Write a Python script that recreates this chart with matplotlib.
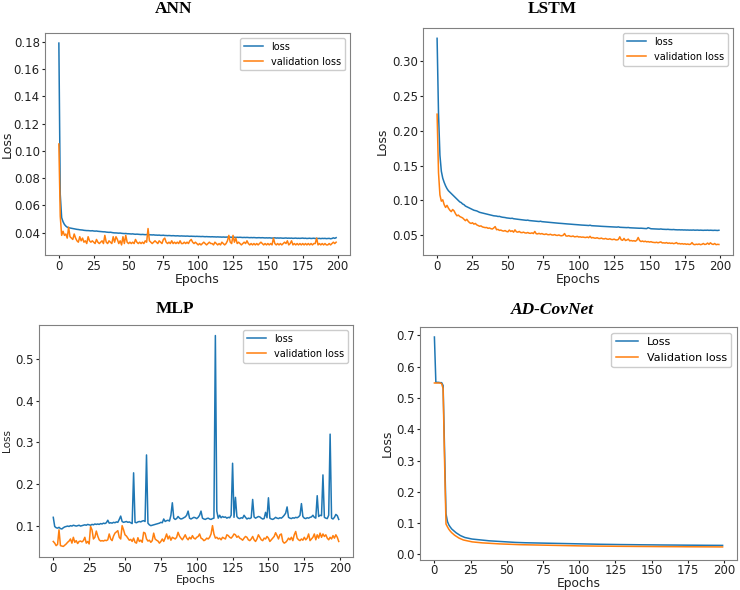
import numpy as np
import matplotlib
matplotlib.use("Agg")
from matplotlib import pyplot as plt

epochs = np.arange(200)

ann_loss = [
    0.179, 0.068, 0.051, 0.048, 0.046, 0.0448, 0.0440, 0.0436, 0.0434, 0.0432,
    0.0430, 0.0428, 0.0426, 0.0424, 0.0423, 0.0421, 0.0420, 0.0419, 0.0417, 0.0416,
    0.0415, 0.0415, 0.0414, 0.0413, 0.0414, 0.0412, 0.0411, 0.0412, 0.0410, 0.0409,
    0.0408, 0.0407, 0.0406, 0.0406, 0.0404, 0.0403, 0.0402, 0.0403, 0.0401, 0.0399,
    0.0398, 0.0398, 0.0397, 0.0396, 0.0397, 0.0395, 0.0394, 0.0393, 0.0394, 0.0392,
    0.0392, 0.0391, 0.0390, 0.0391, 0.0389, 0.0388, 0.0389, 0.0388, 0.0387, 0.0386,
    0.0387, 0.0386, 0.0385, 0.0386, 0.0385, 0.0384, 0.0384, 0.0383, 0.0384, 0.0382,
    0.0382, 0.0381, 0.0382, 0.0380, 0.0380, 0.0381, 0.0379, 0.0379, 0.0378, 0.0379,
    0.0378, 0.0377, 0.0378, 0.0377, 0.0376, 0.0377, 0.0376, 0.0375, 0.0376, 0.0375,
    0.0375, 0.0374, 0.0375, 0.0374, 0.0373, 0.0374, 0.0373, 0.0373, 0.0372, 0.0373,
    0.0372, 0.0372, 0.0371, 0.0372, 0.0371, 0.0370, 0.0371, 0.0370, 0.0370, 0.0369,
    0.0370, 0.0369, 0.0369, 0.0368, 0.0369, 0.0368, 0.0368, 0.0367, 0.0368, 0.0367,
    0.0367, 0.0368, 0.0366, 0.0367, 0.0366, 0.0367, 0.0366, 0.0365, 0.0366, 0.0365,
    0.0366, 0.0365, 0.0364, 0.0365, 0.0364, 0.0365, 0.0364, 0.0363, 0.0364, 0.0363,
    0.0364, 0.0363, 0.0362, 0.0363, 0.0363, 0.0362, 0.0363, 0.0362, 0.0361, 0.0362,
    0.0361, 0.0362, 0.0361, 0.0360, 0.0361, 0.0362, 0.0360, 0.0361, 0.0360, 0.0361,
    0.0360, 0.0359, 0.0360, 0.0361, 0.0359, 0.0360, 0.0359, 0.0360, 0.0358, 0.0359,
    0.0360, 0.0358, 0.0359, 0.0358, 0.0359, 0.0360, 0.0358, 0.0359, 0.0357, 0.0358,
    0.0359, 0.0357, 0.0358, 0.0359, 0.0357, 0.0358, 0.0357, 0.0358, 0.0356, 0.0358,
    0.0357, 0.0358, 0.0356, 0.0357, 0.0358, 0.0355, 0.0357, 0.0362, 0.0358, 0.0363,
]
ann_val = [
    0.105, 0.052, 0.038, 0.041, 0.038, 0.039, 0.036, 0.044, 0.037, 0.036,
    0.035, 0.039, 0.036, 0.034, 0.033, 0.037, 0.034, 0.036, 0.033, 0.034,
    0.032, 0.037, 0.034, 0.033, 0.034, 0.033, 0.032, 0.035, 0.033, 0.032,
    0.033, 0.034, 0.032, 0.038, 0.033, 0.032, 0.034, 0.033, 0.032, 0.037,
    0.033, 0.037, 0.035, 0.032, 0.034, 0.031, 0.037, 0.032, 0.038, 0.033,
    0.032, 0.033, 0.032, 0.033, 0.032, 0.035, 0.033, 0.032, 0.033, 0.032,
    0.033, 0.032, 0.034, 0.033, 0.043, 0.034, 0.033, 0.032, 0.033, 0.034,
    0.033, 0.032, 0.034, 0.033, 0.032, 0.035, 0.036, 0.033, 0.032, 0.033,
    0.032, 0.034, 0.032, 0.033, 0.032, 0.033, 0.032, 0.034, 0.032, 0.032,
    0.033, 0.032, 0.033, 0.032, 0.034, 0.035, 0.033, 0.032, 0.033, 0.032,
    0.031, 0.032, 0.031, 0.032, 0.033, 0.032, 0.031, 0.032, 0.033, 0.032,
    0.032, 0.031, 0.033, 0.032, 0.031, 0.032, 0.031, 0.033, 0.032, 0.031,
    0.032, 0.034, 0.038, 0.033, 0.032, 0.038, 0.033, 0.036, 0.032, 0.033,
    0.032, 0.031, 0.032, 0.033, 0.032, 0.034, 0.032, 0.031, 0.032, 0.031,
    0.032, 0.031, 0.032, 0.031, 0.032, 0.033, 0.032, 0.031, 0.032, 0.031,
    0.032, 0.031, 0.032, 0.031, 0.036, 0.032, 0.031, 0.032, 0.031, 0.032,
    0.031, 0.032, 0.033, 0.032, 0.034, 0.031, 0.032, 0.034, 0.031, 0.032,
    0.031, 0.032, 0.031, 0.032, 0.031, 0.032, 0.031, 0.032, 0.031, 0.032,
    0.031, 0.032, 0.031, 0.032, 0.032, 0.036, 0.031, 0.032, 0.031, 0.032,
    0.031, 0.032, 0.031, 0.031, 0.032, 0.031, 0.032, 0.033, 0.032, 0.033,
]

lstm_loss = [
    0.333, 0.225, 0.165, 0.142, 0.132, 0.126, 0.121, 0.117, 0.114, 0.112,
    0.110, 0.108, 0.106, 0.104, 0.102, 0.100, 0.098, 0.097, 0.095, 0.094,
    0.092, 0.091, 0.090, 0.089, 0.088, 0.087, 0.086, 0.0855, 0.085, 0.084,
    0.083, 0.0825, 0.082, 0.0815, 0.081, 0.0805, 0.080, 0.0795, 0.079, 0.0785,
    0.078, 0.0778, 0.0776, 0.077, 0.0772, 0.0765, 0.076, 0.0758, 0.0755, 0.075,
    0.0748, 0.0745, 0.0742, 0.0745, 0.0738, 0.0735, 0.0732, 0.073, 0.0728, 0.0725,
    0.0722, 0.072, 0.0718, 0.0715, 0.0718, 0.0712, 0.071, 0.0708, 0.0705, 0.0703,
    0.0702, 0.070, 0.0698, 0.0702, 0.0696, 0.0694, 0.0692, 0.069, 0.0688, 0.0686,
    0.0685, 0.0683, 0.068, 0.0678, 0.0677, 0.0675, 0.0673, 0.0672, 0.067, 0.0668,
    0.0667, 0.0665, 0.0663, 0.0662, 0.066, 0.0658, 0.0657, 0.0655, 0.0654, 0.0652,
    0.065, 0.0649, 0.0647, 0.0646, 0.0645, 0.0643, 0.0642, 0.064, 0.0645, 0.0638,
    0.0637, 0.0636, 0.0634, 0.0633, 0.0632, 0.063, 0.0629, 0.0628, 0.0627, 0.0626,
    0.0625, 0.0624, 0.0622, 0.0621, 0.062, 0.0619, 0.0618, 0.0617, 0.0621, 0.0615,
    0.0614, 0.0613, 0.0612, 0.0611, 0.061, 0.0612, 0.0608, 0.0607, 0.0606, 0.0605,
    0.0604, 0.0603, 0.0602, 0.0601, 0.0602, 0.060, 0.0598, 0.0597, 0.0596, 0.0609,
    0.0602, 0.0594, 0.0593, 0.0592, 0.0591, 0.059, 0.0589, 0.0588, 0.0591, 0.0587,
    0.0586, 0.0585, 0.0584, 0.0586, 0.0583, 0.0582, 0.0581, 0.0583, 0.058, 0.0579,
    0.0578, 0.0579, 0.0577, 0.0578, 0.0576, 0.0577, 0.0575, 0.0576, 0.0574, 0.0575,
    0.0574, 0.0576, 0.0573, 0.0574, 0.0575, 0.0572, 0.0574, 0.0573, 0.0571, 0.0573,
    0.0572, 0.0574, 0.0571, 0.0573, 0.0572, 0.0570, 0.0572, 0.0571, 0.0569, 0.0572,
]
lstm_val = [
    0.224, 0.140, 0.108, 0.099, 0.101, 0.094, 0.090, 0.093, 0.089, 0.086,
    0.084, 0.087, 0.085, 0.081, 0.078, 0.079, 0.077, 0.076, 0.075, 0.073,
    0.071, 0.073, 0.070, 0.068, 0.067, 0.068, 0.066, 0.067, 0.065, 0.064,
    0.063, 0.0635, 0.062, 0.0615, 0.061, 0.0612, 0.060, 0.0605, 0.0595, 0.059,
    0.0605, 0.0625, 0.058, 0.0585, 0.057, 0.0575, 0.0565, 0.056, 0.0568, 0.0555,
    0.055, 0.0575, 0.0555, 0.0565, 0.0545, 0.0578, 0.055, 0.0545, 0.0555, 0.054,
    0.0538, 0.0545, 0.0535, 0.0532, 0.054, 0.053, 0.0528, 0.0535, 0.0525, 0.0555,
    0.0522, 0.052, 0.0528, 0.0518, 0.0525, 0.0515, 0.0512, 0.052, 0.051, 0.0508,
    0.0515, 0.0505, 0.0503, 0.051, 0.050, 0.0498, 0.0505, 0.0495, 0.0493, 0.050,
    0.0525, 0.049, 0.0488, 0.0495, 0.0485, 0.0483, 0.049, 0.0478, 0.048, 0.0485,
    0.0475, 0.0478, 0.0472, 0.0475, 0.047, 0.0468, 0.0475, 0.0465, 0.0485, 0.0462,
    0.0468, 0.046, 0.0458, 0.0465, 0.0455, 0.0453, 0.046, 0.045, 0.0448, 0.0455,
    0.0445, 0.0443, 0.045, 0.044, 0.0438, 0.0445, 0.0435, 0.0433, 0.044, 0.0478,
    0.0435, 0.0428, 0.0455, 0.0425, 0.0432, 0.0445, 0.042, 0.0425, 0.0418, 0.0422,
    0.0415, 0.0428, 0.0468, 0.0425, 0.041, 0.0418, 0.0408, 0.0415, 0.0405, 0.041,
    0.0402, 0.0408, 0.040, 0.0398, 0.0395, 0.040, 0.0392, 0.0398, 0.0405, 0.039,
    0.0392, 0.0388, 0.0395, 0.0385, 0.039, 0.0383, 0.0388, 0.038, 0.0385, 0.0395,
    0.0378, 0.0382, 0.0375, 0.038, 0.0373, 0.0378, 0.037, 0.0375, 0.0368, 0.0372,
    0.0395, 0.037, 0.0365, 0.0372, 0.0368, 0.0375, 0.0365, 0.037, 0.0382, 0.0368,
    0.0372, 0.0388, 0.037, 0.0392, 0.0375, 0.0368, 0.0382, 0.0365, 0.037, 0.0368,
]

mlp_loss = [
    0.120, 0.098, 0.095, 0.094, 0.096, 0.093, 0.092, 0.095, 0.097, 0.098,
    0.099, 0.098, 0.100, 0.099, 0.101, 0.100, 0.099, 0.100, 0.101, 0.099,
    0.100, 0.101, 0.102, 0.101, 0.103, 0.102, 0.101, 0.103, 0.102, 0.104,
    0.103, 0.104, 0.103, 0.105, 0.104, 0.106, 0.105, 0.107, 0.113, 0.106,
    0.107, 0.106, 0.108, 0.107, 0.109, 0.108, 0.115, 0.123, 0.110, 0.108,
    0.109, 0.110, 0.108, 0.109, 0.107, 0.105, 0.227, 0.108, 0.107, 0.109,
    0.110, 0.109, 0.111, 0.112, 0.110, 0.270, 0.106, 0.102, 0.100, 0.101,
    0.102, 0.103, 0.104, 0.105, 0.106, 0.108, 0.107, 0.116, 0.110, 0.112,
    0.113, 0.111, 0.125, 0.155, 0.118, 0.115, 0.117, 0.122, 0.118, 0.116,
    0.117, 0.119, 0.121, 0.125, 0.135, 0.118, 0.116, 0.118, 0.120, 0.119,
    0.117, 0.120, 0.125, 0.135, 0.118, 0.116, 0.115, 0.117, 0.118, 0.116,
    0.115, 0.117, 0.118, 0.557, 0.135, 0.118, 0.125, 0.119, 0.122, 0.120,
    0.121, 0.118, 0.120, 0.119, 0.125, 0.250, 0.120, 0.168, 0.122, 0.118,
    0.117, 0.119, 0.118, 0.125, 0.120, 0.116, 0.118, 0.117, 0.119, 0.163,
    0.121, 0.118, 0.120, 0.122, 0.121, 0.118, 0.116, 0.117, 0.132, 0.119,
    0.167, 0.118, 0.116, 0.115, 0.117, 0.120, 0.118, 0.117, 0.119, 0.118,
    0.121, 0.125, 0.130, 0.145, 0.120, 0.118, 0.117, 0.119, 0.118, 0.120,
    0.119, 0.121, 0.125, 0.153, 0.122, 0.118, 0.117, 0.119, 0.118, 0.120,
    0.121, 0.125, 0.120, 0.118, 0.172, 0.122, 0.125, 0.124, 0.222, 0.120,
    0.118, 0.117, 0.125, 0.320, 0.118, 0.116, 0.120, 0.127, 0.124, 0.115,
]
mlp_val = [
    0.062, 0.058, 0.052, 0.055, 0.090, 0.052, 0.051, 0.050, 0.053, 0.056,
    0.060, 0.063, 0.068, 0.058, 0.072, 0.060, 0.064, 0.057, 0.062, 0.063,
    0.061, 0.064, 0.072, 0.058, 0.062, 0.056, 0.098, 0.090, 0.068, 0.072,
    0.087, 0.075, 0.066, 0.063, 0.064, 0.063, 0.065, 0.064, 0.066, 0.080,
    0.068, 0.064, 0.075, 0.082, 0.085, 0.088, 0.072, 0.068, 0.100, 0.090,
    0.078, 0.075, 0.070, 0.065, 0.067, 0.062, 0.070, 0.060, 0.058, 0.071,
    0.062, 0.065, 0.060, 0.084, 0.082, 0.068, 0.063, 0.065, 0.060, 0.064,
    0.082, 0.068, 0.065, 0.063, 0.058, 0.062, 0.068, 0.062, 0.070, 0.080,
    0.068, 0.075, 0.065, 0.072, 0.070, 0.068, 0.072, 0.084, 0.075, 0.070,
    0.066, 0.072, 0.078, 0.070, 0.066, 0.072, 0.068, 0.076, 0.070, 0.068,
    0.072, 0.074, 0.080, 0.070, 0.068, 0.064, 0.066, 0.070, 0.068, 0.072,
    0.080, 0.100, 0.080, 0.070, 0.072, 0.068, 0.070, 0.066, 0.072, 0.070,
    0.068, 0.078, 0.076, 0.072, 0.070, 0.074, 0.080, 0.078, 0.072, 0.075,
    0.070, 0.068, 0.065, 0.070, 0.074, 0.072, 0.066, 0.064, 0.068, 0.074,
    0.066, 0.062, 0.068, 0.078, 0.072, 0.066, 0.064, 0.070, 0.068, 0.074,
    0.070, 0.062, 0.066, 0.070, 0.074, 0.083, 0.076, 0.068, 0.078, 0.080,
    0.062, 0.058, 0.060, 0.064, 0.070, 0.066, 0.072, 0.064, 0.078, 0.086,
    0.070, 0.066, 0.064, 0.068, 0.065, 0.072, 0.066, 0.070, 0.080, 0.064,
    0.068, 0.072, 0.080, 0.066, 0.078, 0.070, 0.082, 0.072, 0.080, 0.074,
    0.078, 0.070, 0.066, 0.072, 0.068, 0.076, 0.070, 0.078, 0.072, 0.062,
]

adc_loss = [
    0.695, 0.550, 0.550, 0.550, 0.549, 0.549, 0.540, 0.330, 0.130, 0.105,
    0.094, 0.087, 0.081, 0.077, 0.073, 0.069, 0.066, 0.063, 0.060, 0.058,
    0.056, 0.054, 0.053, 0.052, 0.051, 0.050, 0.049, 0.0485, 0.048, 0.0475,
    0.047, 0.0465, 0.046, 0.0455, 0.045, 0.0445, 0.044, 0.0437, 0.0433, 0.043,
    0.0427, 0.0423, 0.042, 0.0417, 0.0413, 0.041, 0.0407, 0.0403, 0.040, 0.0397,
    0.0395, 0.0392, 0.039, 0.0388, 0.0386, 0.0384, 0.0382, 0.038, 0.0378, 0.0377,
    0.0375, 0.0374, 0.0372, 0.0371, 0.037, 0.0368, 0.0367, 0.0366, 0.0365, 0.0364,
    0.0363, 0.0362, 0.0361, 0.036, 0.0359, 0.0358, 0.0357, 0.0356, 0.0355, 0.0354,
    0.0353, 0.0352, 0.0351, 0.035, 0.0349, 0.0348, 0.0347, 0.0346, 0.0345, 0.0344,
    0.0343, 0.0342, 0.0341, 0.034, 0.0339, 0.0338, 0.0337, 0.0336, 0.0335, 0.0334,
    0.0333, 0.0332, 0.0331, 0.0331, 0.033, 0.0329, 0.0328, 0.0328, 0.0327, 0.0326,
    0.0326, 0.0325, 0.0324, 0.0324, 0.0323, 0.0322, 0.0322, 0.0321, 0.032, 0.032,
    0.0319, 0.0318, 0.0318, 0.0317, 0.0316, 0.0316, 0.0315, 0.0315, 0.0314, 0.0313,
    0.0313, 0.0312, 0.0312, 0.0311, 0.0311, 0.031, 0.031, 0.0309, 0.0309, 0.0308,
    0.0308, 0.0307, 0.0307, 0.0306, 0.0306, 0.0305, 0.0305, 0.0304, 0.0304, 0.0303,
    0.0303, 0.0303, 0.0302, 0.0302, 0.0301, 0.0301, 0.0301, 0.030, 0.030, 0.0299,
    0.0299, 0.0299, 0.0298, 0.0298, 0.0298, 0.0297, 0.0297, 0.0297, 0.0296, 0.0296,
    0.0296, 0.0295, 0.0295, 0.0295, 0.0294, 0.0294, 0.0294, 0.0293, 0.0293, 0.0293,
    0.0292, 0.0292, 0.0292, 0.0291, 0.0291, 0.0291, 0.029, 0.029, 0.029, 0.029,
    0.0289, 0.0289, 0.0289, 0.0289, 0.0288, 0.0288, 0.0288, 0.0288, 0.0287, 0.0287,
]
adc_val = [
    0.548, 0.548, 0.548, 0.548, 0.548, 0.546, 0.530, 0.300, 0.097, 0.088,
    0.080, 0.074, 0.069, 0.065, 0.061, 0.058, 0.055, 0.052, 0.050, 0.048,
    0.046, 0.045, 0.044, 0.043, 0.042, 0.041, 0.040, 0.0395, 0.039, 0.0385,
    0.038, 0.0376, 0.0372, 0.0368, 0.0365, 0.0362, 0.0359, 0.0356, 0.0353, 0.035,
    0.0347, 0.0345, 0.0342, 0.034, 0.0337, 0.0335, 0.0333, 0.0331, 0.0329, 0.0327,
    0.0325, 0.0323, 0.0321, 0.032, 0.0318, 0.0316, 0.0315, 0.0313, 0.0312, 0.031,
    0.0309, 0.0307, 0.0306, 0.0305, 0.0303, 0.0302, 0.0301, 0.030, 0.0299, 0.0298,
    0.0297, 0.0296, 0.0295, 0.0294, 0.0293, 0.0292, 0.0291, 0.029, 0.0289, 0.0288,
    0.0287, 0.0286, 0.0285, 0.0284, 0.0283, 0.0283, 0.0282, 0.0281, 0.028, 0.0279,
    0.0279, 0.0278, 0.0277, 0.0276, 0.0276, 0.0275, 0.0274, 0.0274, 0.0273, 0.0272,
    0.0272, 0.0271, 0.0271, 0.027, 0.0269, 0.0269, 0.0268, 0.0268, 0.0267, 0.0267,
    0.0266, 0.0266, 0.0265, 0.0265, 0.0264, 0.0264, 0.0263, 0.0263, 0.0262, 0.0262,
    0.0261, 0.0261, 0.026, 0.026, 0.0259, 0.0259, 0.0259, 0.0258, 0.0258, 0.0257,
    0.0257, 0.0257, 0.0256, 0.0256, 0.0255, 0.0255, 0.0255, 0.0254, 0.0254, 0.0254,
    0.0253, 0.0253, 0.0253, 0.0252, 0.0252, 0.0252, 0.0251, 0.0251, 0.0251, 0.025,
    0.025, 0.025, 0.0249, 0.0249, 0.0249, 0.0248, 0.0248, 0.0248, 0.0248, 0.0247,
    0.0247, 0.0247, 0.0246, 0.0246, 0.0246, 0.0246, 0.0245, 0.0245, 0.0245, 0.0245,
    0.0244, 0.0244, 0.0244, 0.0244, 0.0243, 0.0243, 0.0243, 0.0243, 0.0242, 0.0242,
    0.0242, 0.0242, 0.0241, 0.0241, 0.0241, 0.0241, 0.0241, 0.024, 0.024, 0.024,
    0.024, 0.024, 0.0239, 0.0239, 0.0239, 0.0239, 0.0239, 0.0238, 0.0238, 0.0238,
]

xticks = [0, 25, 50, 75, 100, 125, 150, 175, 200]
ann_yticks = [0.04, 0.06, 0.08, 0.10, 0.12, 0.14, 0.16, 0.18]
lstm_yticks = [0.05, 0.10, 0.15, 0.20, 0.25, 0.30]
mlp_yticks = [0.1, 0.2, 0.3, 0.4, 0.5]
adc_yticks = [0.0, 0.1, 0.2, 0.3, 0.4, 0.5, 0.6, 0.7]

W, H = 740, 590
fig = plt.figure(figsize=(W / 100, H / 100), dpi=100)


def panel(box, loss, val, labels, yticks, yfmt, title, title_xy, lab_xy,
          italic=False, leg_size=7, xlab_size=9, ylab_size=9, ylim=None,
          xpad=1.2):
    x0, y0, x1, y1 = box  # pixel box of the frame
    ax = fig.add_axes([x0 / W, 1 - y1 / H, (x1 - x0) / W, (y1 - y0) / H])
    ax.plot(epochs, loss, color='#1f77b4', lw=1.1, label=labels[0])
    ax.plot(epochs, val, color='#ff7f0e', lw=1.1, label=labels[1])
    ax.set_xticks(xticks)
    ax.set_yticks(yticks)
    ax.set_yticklabels([yfmt.format(t) for t in yticks])
    if ylim:
        ax.set_ylim(*ylim)
    ax.tick_params(labelsize=8.5, colors='#222222', length=2.5, pad=1.2)
    ax.tick_params(axis='x', pad=xpad)
    for s in ax.spines.values():
        s.set_color('#808080')
    ax.set_xlabel('Epochs', fontsize=xlab_size, color='#222222')
    ax.set_ylabel('Loss', fontsize=ylab_size, color='#222222')
    # label centres, in pixels
    ax.xaxis.set_label_coords(0.5, -(lab_xy[1] - y1) / (y1 - y0))
    ax.xaxis.label.set_va('center')
    ax.yaxis.set_label_coords((lab_xy[0] - x0) / (x1 - x0), 0.5)
    ax.yaxis.label.set_va('center')
    ax.legend(loc='upper right', fontsize=leg_size, framealpha=1)
    fig.text(title_xy[0] / W, 1 - title_xy[1] / H, title, ha='center', va='center',
             family='Liberation Serif', fontweight='bold', fontsize=12.5,
             style='italic' if italic else 'normal')
    return ax


panel((45, 33, 350, 255), ann_loss, ann_val, ['loss', 'validation loss'],
      ann_yticks, '{:.2f}', 'ANN', (174, 9), (7, 279))
panel((423, 28, 733, 255), lstm_loss, lstm_val, ['loss', 'validation loss'],
      lstm_yticks, '{:.2f}', 'LSTM', (552, 9), (382, 279))
panel((39, 325, 353, 557), mlp_loss, mlp_val, ['loss', 'validation loss'],
      mlp_yticks, '{:.1f}', 'MLP', (175, 309), (7, 580),
      xlab_size=8, ylab_size=7.5)
panel((420, 327, 737, 560), adc_loss, adc_val, ['Loss', 'Validation loss'],
      adc_yticks, '{:.1f}', 'AD-CovNet', (552, 310), (387, 583),
      italic=True, leg_size=8, ylim=(-0.018, 0.727), xlab_size=8.8, xpad=0.4)

fig.savefig('out.png', dpi=100)
